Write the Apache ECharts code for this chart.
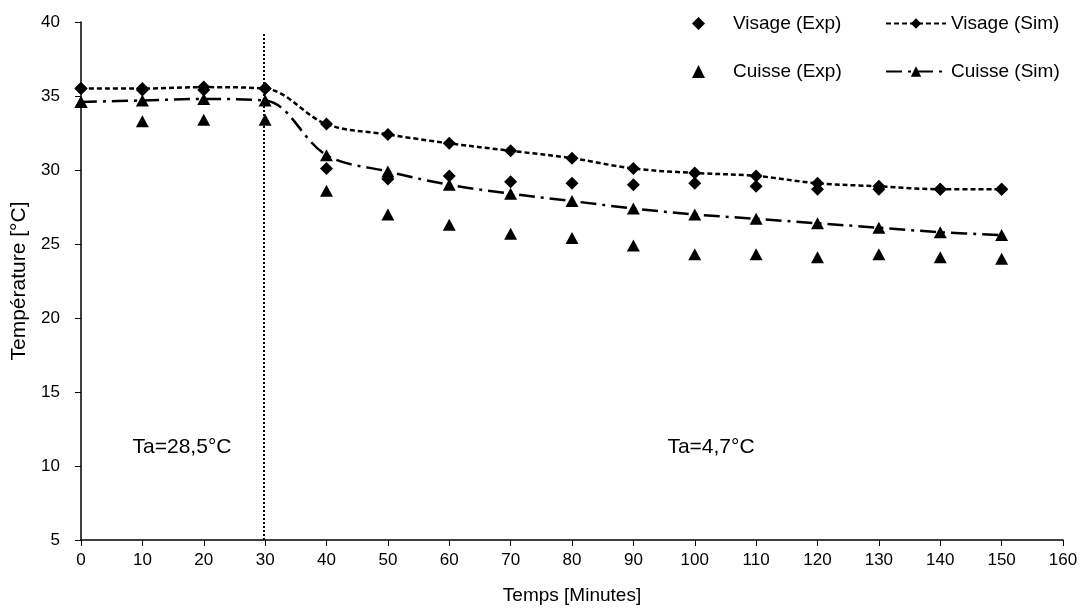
<!DOCTYPE html>
<html>
<head>
<meta charset="utf-8">
<script src="https://cdn.jsdelivr.net/npm/echarts@6/dist/echarts.min.js"></script>
<style>html,body{margin:0;padding:0;background:#fff}#c{width:1086px;height:610px}</style>
</head>
<body>
<div id="c"></div>
<script>
const times = [0,10,20,30,40,50,60,70,80,90,100,110,120,130,140,150];
const visageExp = [35.5,35.4,35.4,35.5,30.1,29.4,29.6,29.2,29.1,29.0,29.1,28.9,28.7,28.7,28.7,28.7];
const visageSim = [35.5,35.5,35.6,35.5,33.1,32.4,31.8,31.3,30.8,30.1,29.8,29.6,29.1,28.9,28.7,28.7];
const cuisseExp = [34.6,33.3,33.4,33.4,28.6,27.0,26.3,25.7,25.4,24.9,24.3,24.3,24.1,24.3,24.1,24.0];
const cuisseSim = [34.6,34.7,34.8,34.7,31.0,29.9,29.0,28.4,27.9,27.4,27.0,26.7,26.4,26.1,25.8,25.6];
const seriesNames = ['Visage (Exp)','Visage (Sim)','Cuisse (Exp)','Cuisse (Sim)'];
const switchTime = 29.7;
const switchTop = 39.3;
const annotations = ['Ta=28,5°C','Ta=4,7°C'];

const pairs = arr => times.map((t,i)=>[t,arr[i]]);
const FONT = 'Liberation Sans, Arial, sans-serif';
const chart = echarts.init(document.getElementById('c'));
chart.setOption({
  animation:false,
  backgroundColor:'#fff',
  textStyle:{fontFamily:FONT,color:'#000'},
  grid:{left:81,right:23,top:22,bottom:67},
  legend:[
    {data:[{name:seriesNames[0],icon:'diamond'},{name:seriesNames[2],icon:'triangle'}],orient:'vertical',left:692,top:14,padding:0,
     itemWidth:13,itemHeight:13,itemGap:29,
     textStyle:{fontSize:19,color:'#000',fontFamily:FONT,padding:[0,0,0,23]}},
    {data:[seriesNames[1],seriesNames[3]],orient:'vertical',left:885,top:14,padding:0,itemWidth:60,itemHeight:13,itemGap:29,
     textStyle:{fontSize:19,color:'#000',fontFamily:FONT}}
  ],
  xAxis:{type:'value',min:0,max:160,interval:10,
    name:'Temps [Minutes]',nameLocation:'middle',nameGap:46,
    nameTextStyle:{fontSize:19,color:'#000',fontFamily:FONT},
    axisLine:{lineStyle:{color:'#000',width:1.5}},
    axisTick:{show:true,length:6,lineStyle:{color:'#000'}},
    axisLabel:{fontSize:17,color:'#000',margin:12,fontFamily:FONT},
    splitLine:{show:false}},
  yAxis:{type:'value',min:5,max:40,interval:5,
    name:'Température [°C]',nameLocation:'middle',nameGap:48,
    nameTextStyle:{fontSize:21,color:'#000',fontFamily:FONT},
    axisLine:{show:true,lineStyle:{color:'#000',width:1.5}},
    axisTick:{show:true,length:6,lineStyle:{color:'#000'}},
    axisLabel:{fontSize:17,color:'#000',margin:21,fontFamily:FONT},
    splitLine:{show:false}},
  graphic:[
    {type:'text',x:182,y:447,style:{text:annotations[0],font:'21px '+FONT,fill:'#000',align:'center',verticalAlign:'middle',textAlign:'center',textVerticalAlign:'middle'}},
    {type:'text',x:711,y:447,style:{text:annotations[1],font:'21px '+FONT,fill:'#000',align:'center',verticalAlign:'middle',textAlign:'center',textVerticalAlign:'middle'}}
  ],
  series:[
    {name:seriesNames[0],type:'scatter',data:pairs(visageExp),symbol:'diamond',symbolSize:13,
     itemStyle:{color:'#000',opacity:1},z:3,
     markLine:{silent:true,symbol:'none',label:{show:false},
       lineStyle:{color:'#000',width:2,type:[2,2]},
       data:[[{coord:[switchTime,5]},{coord:[switchTime,switchTop]}]]}},
    {name:seriesNames[1],type:'line',data:pairs(visageSim),smooth:0.35,symbol:'diamond',symbolSize:13,showAllSymbol:true,
     itemStyle:{color:'#000'},lineStyle:{color:'#000',width:2.5,type:[5,3]},z:2},
    {name:seriesNames[2],type:'scatter',data:pairs(cuisseExp),symbol:'triangle',symbolSize:[13,12],
     itemStyle:{color:'#000',opacity:1},z:3},
    {name:seriesNames[3],type:'line',data:pairs(cuisseSim),smooth:0.35,symbol:'triangle',symbolSize:[13,12],showAllSymbol:true,
     itemStyle:{color:'#000'},lineStyle:{color:'#000',width:2.5,type:[16,6,3,6]},z:2}
  ]
});
</script>
</body>
</html>
